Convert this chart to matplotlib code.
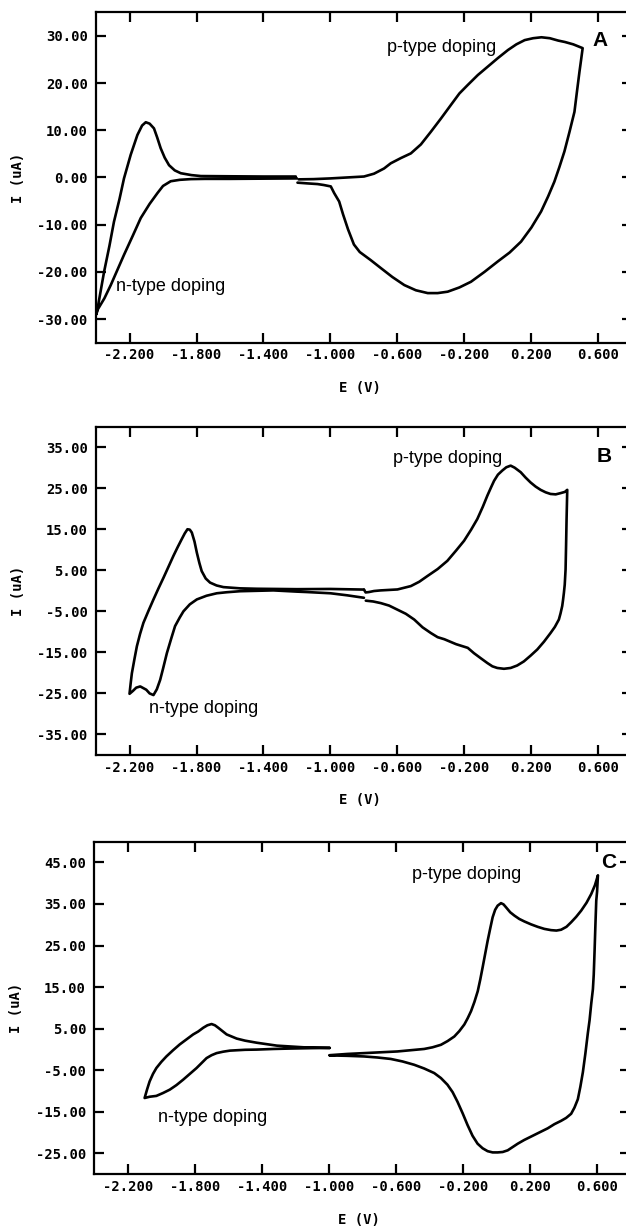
import matplotlib
matplotlib.use("Agg")
import matplotlib.pyplot as plt
from matplotlib.ticker import FixedLocator, FormatStrFormatter

# ---- Panel A --------------------------------------------------------------
# n-doping loop (-1.2 V -> -2.4 V -> -1.2 V)
A_LEFT_E = [-1.20, -1.40, -1.60, -1.75, -1.834, -1.90, -1.954, -2.00, -2.033, -2.08,
            -2.133, -2.18, -2.233, -2.275, -2.312, -2.35, -2.392, -2.398,
            -2.392, -2.372, -2.352, -2.32, -2.293, -2.26, -2.233, -2.193, -2.153,
            -2.125, -2.103, -2.08, -2.054, -2.035, -2.014, -1.99, -1.964, -1.93,
            -1.894, -1.83, -1.774, -1.60, -1.40, -1.207]
A_LEFT_I = [-0.2, -0.25, -0.3, -0.3, -0.35, -0.5, -0.8, -1.8, -3.3, -5.6,
            -8.6, -12.3, -16.4, -19.8, -22.8, -25.6, -28.1, -29.0,
            -28.0, -24.0, -20.0, -14.5, -9.4, -4.6, -0.2, 4.8, 9.0,
            11.0, 11.7, 11.4, 10.4, 8.5, 6.2, 4.2, 2.6, 1.5,
            0.9, 0.5, 0.3, 0.25, 0.2, 0.2]
# p-doping loop (-1.2 V -> 0.5 V -> -1.2 V)
A_RIGHT_E = [-1.19, -1.10, -1.0, -0.90, -0.80, -0.74, -0.68, -0.64, -0.58, -0.52,
             -0.46, -0.40, -0.34, -0.28, -0.23, -0.18, -0.12, -0.06, 0.0, 0.06,
             0.11, 0.16, 0.21, 0.26, 0.31, 0.36, 0.40, 0.45, 0.506,
             0.497, 0.487, 0.472, 0.457, 0.427, 0.397, 0.367, 0.337, 0.30, 0.258,
             0.20, 0.138, 0.07, -0.001, -0.08, -0.161, -0.23, -0.30, -0.36, -0.419,
             -0.49, -0.559, -0.63, -0.699, -0.76, -0.825, -0.86, -0.895, -0.925,
             -0.948, -0.978, -0.998, -1.04, -1.077, -1.14, -1.197]
A_RIGHT_I = [-0.4, -0.35, -0.2, 0.0, 0.2, 0.8, 1.9, 3.0, 4.1, 5.1,
             7.0, 9.7, 12.5, 15.4, 17.8, 19.6, 21.7, 23.5, 25.3, 27.0,
             28.2, 29.1, 29.5, 29.7, 29.5, 29.0, 28.7, 28.2, 27.4,
             25.0, 22.4, 18.2, 13.9, 9.6, 5.5, 2.2, -0.9, -4.0, -7.2,
             -10.6, -13.6, -15.9, -17.8, -20.0, -22.1, -23.3, -24.2, -24.5, -24.5,
             -23.9, -22.8, -21.1, -19.2, -17.5, -15.8, -14.2, -11.0, -7.8,
             -5.1, -3.3, -1.9, -1.6, -1.4, -1.25, -1.1]

# ---- Panel B --------------------------------------------------------------
B_LEFT_E = [-0.80, -0.90, -1.00, -1.142, -1.20, -1.341, -1.44, -1.54, -1.62, -1.679,
            -1.74, -1.798, -1.84, -1.878, -1.90, -1.928, -1.95, -1.977, -2.00, -2.017,
            -2.037, -2.057, -2.08, -2.10, -2.136, -2.16, -2.18, -2.20,
            -2.193, -2.186, -2.17, -2.156, -2.137, -2.117, -2.087, -2.057, -2.027,
            -1.997, -1.968, -1.938, -1.913, -1.888, -1.87, -1.854, -1.84, -1.828,
            -1.812, -1.798, -1.783, -1.769, -1.745, -1.719, -1.68, -1.639, -1.54,
            -1.44, -1.2, -1.0, -0.80]
B_LEFT_I = [-1.7, -1.1, -0.6, -0.3, -0.2, 0.1, 0.0, -0.1, -0.35, -0.6,
            -1.2, -2.1, -3.3, -5.0, -6.5, -8.6, -11.5, -15.2, -19.0, -21.7,
            -24.0, -25.4, -25.0, -24.1, -23.3, -23.6, -24.4, -25.1,
            -22.5, -20.1, -16.5, -13.5, -10.5, -7.8, -4.9, -2.1, 0.6,
            3.2, 5.8, 8.5, 10.6, 12.6, 14.0, 15.0, 14.9, 14.2,
            12.0, 9.3, 6.8, 4.8, 3.0, 2.0, 1.3, 0.9, 0.6,
            0.5, 0.4, 0.45, 0.3]
B_RIGHT_E = [-0.80, -0.79, -0.77, -0.74, -0.70, -0.6, -0.52, -0.47, -0.421, -0.36,
             -0.302, -0.25, -0.202, -0.16, -0.123, -0.09, -0.063, -0.04, -0.023, 0.0,
             0.026, 0.05, 0.076, 0.10, 0.136, 0.165, 0.195, 0.225, 0.255, 0.285,
             0.314, 0.345, 0.374, 0.40, 0.414,
             0.412, 0.41, 0.407, 0.404, 0.399, 0.394, 0.389, 0.384, 0.374, 0.364,
             0.34, 0.314, 0.275, 0.235, 0.195, 0.155, 0.115, 0.076, 0.036, -0.004,
             -0.033, -0.063, -0.10, -0.143, -0.18, -0.25, -0.32, -0.36, -0.40, -0.45,
             -0.50, -0.55, -0.60, -0.65, -0.699, -0.745, -0.789]
B_RIGHT_I = [0.3, -0.4, -0.3, -0.05, 0.1, 0.33, 1.15, 2.2, 3.6, 5.3,
             7.3, 9.8, 12.2, 14.9, 17.5, 20.5, 23.2, 25.3, 26.8, 28.3,
             29.3, 30.1, 30.5, 30.0, 28.9, 27.6, 26.4, 25.4, 24.6, 24.0,
             23.6, 23.5, 23.8, 24.1, 24.6,
             21.0, 17.5, 11.0, 5.2, 1.5, -0.5, -2.2, -3.7, -5.5, -7.0,
             -8.8, -10.3, -12.4, -14.3, -15.8, -17.2, -18.2, -18.8, -19.0, -18.8,
             -18.4, -17.6, -16.5, -15.2, -13.9, -13.0, -11.8, -11.3, -10.3, -8.9,
             -7.0, -5.6, -4.6, -3.6, -3.0, -2.6, -2.4]

# ---- Panel C --------------------------------------------------------------
C_LEFT_E = [-0.994, -1.15, -1.31, -1.43, -1.50, -1.55, -1.61, -1.66, -1.68, -1.70,
            -1.725, -1.75, -1.78, -1.81, -1.85, -1.89, -1.93, -1.97, -2.00, -2.03,
            -2.05, -2.07, -2.085, -2.10,
            -2.07, -2.03, -1.99, -1.95, -1.91, -1.87, -1.83, -1.79, -1.76, -1.73,
            -1.70, -1.67, -1.63, -1.59, -1.50, -1.43, -1.33, -1.23, -1.10, -0.994]
C_LEFT_I = [0.35, 0.5, 0.9, 1.6, 2.1, 2.6, 3.6, 5.2, 5.8, 6.1,
            5.8, 5.2, 4.3, 3.6, 2.4, 1.2, -0.2, -1.7, -3.0, -4.5,
            -5.9, -7.7, -9.6, -11.7,
            -11.4, -11.2, -10.5, -9.7, -8.6, -7.3, -5.9, -4.5, -3.3, -2.1,
            -1.4, -0.9, -0.55, -0.3, -0.1, -0.05, 0.1, 0.2, 0.3, 0.35]
C_RIGHT_E = [-0.995, -0.89, -0.79, -0.69, -0.59, -0.51, -0.43, -0.38, -0.33, -0.29,
             -0.25, -0.22, -0.19, -0.17, -0.15, -0.13, -0.11, -0.095, -0.081, -0.066,
             -0.051, -0.036, -0.021, -0.006, 0.009, 0.029, 0.044, 0.059, 0.084, 0.109,
             0.138, 0.168, 0.208, 0.248, 0.288, 0.328, 0.36, 0.388, 0.42, 0.448,
             0.478, 0.508, 0.54, 0.568, 0.59, 0.608,
             0.603, 0.598, 0.593, 0.588, 0.583, 0.578, 0.568, 0.558, 0.548, 0.533,
             0.518, 0.503, 0.488, 0.468, 0.448, 0.418, 0.388, 0.348, 0.308, 0.258,
             0.208, 0.168, 0.129, 0.099, 0.069, 0.039, 0.009, -0.021, -0.051, -0.081,
             -0.111, -0.141, -0.171, -0.20, -0.231, -0.26, -0.291, -0.33, -0.37, -0.43,
             -0.49, -0.56, -0.63, -0.71, -0.79, -0.89, -0.995]
C_RIGHT_I = [-1.4, -1.1, -0.9, -0.7, -0.5, -0.2, 0.1, 0.5, 1.1, 2.0,
             3.1, 4.4, 6.0, 7.5, 9.2, 11.4, 14.0, 16.8, 19.7, 22.9,
             26.1, 29.0, 31.8, 33.6, 34.6, 35.2, 34.9, 34.2, 33.0, 32.2,
             31.4, 30.8, 30.1, 29.5, 29.0, 28.7, 28.6, 28.8, 29.5, 30.6,
             31.9, 33.4, 35.3, 37.4, 39.5, 41.9,
             38.0, 35.8, 30.0, 23.7, 18.0, 14.5, 11.0, 7.0, 4.0, -1.0,
             -5.5, -9.0, -12.0, -14.0, -15.5, -16.5, -17.2, -18.0, -19.0, -20.0,
             -21.0, -21.8, -22.7, -23.5, -24.3, -24.7, -24.8, -24.8, -24.5, -23.8,
             -22.7, -20.8, -18.2, -15.4, -12.6, -10.3, -8.5, -6.9, -5.7, -4.6,
             -3.7, -2.9, -2.3, -1.95, -1.7, -1.55, -1.45]

X_TICKS = [-2.2, -1.8, -1.4, -1.0, -0.6, -0.2, 0.2, 0.6]
Y_TICKS_A = [-30, -20, -10, 0, 10, 20, 30]
Y_TICKS_B = [-35, -25, -15, -5, 5, 15, 25, 35]
Y_TICKS_C = [-25, -15, -5, 5, 15, 25, 35, 45]
YLIM_A = (-35, 35)
YLIM_B = (-40, 40)
YLIM_C = (-30, 50)
XLIM = (-2.4, 0.8)

MONO = "DejaVu Sans Mono"
SANS = "Liberation Sans"


def style_axes(ax, yticks, ylim):
    ax.set_xlim(*XLIM)
    ax.set_ylim(*ylim)
    ax.xaxis.set_major_locator(FixedLocator(X_TICKS))
    ax.yaxis.set_major_locator(FixedLocator(yticks))
    ax.xaxis.set_major_formatter(FormatStrFormatter("%.3f"))
    ax.yaxis.set_major_formatter(FormatStrFormatter("%.2f"))
    ax.tick_params(direction="in", length=7, width=1.6, top=True, right=True,
                   labelsize=10)
    ax.tick_params(axis="x", pad=4)
    ax.tick_params(axis="y", pad=6)
    for lab in ax.get_xticklabels() + ax.get_yticklabels():
        lab.set_fontfamily(MONO)
        lab.set_fontweight("bold")
    for sp in ax.spines.values():
        sp.set_linewidth(1.6)
    ax.set_xlabel("E (V)", fontfamily=MONO, fontweight="bold", fontsize=10)
    ax.set_ylabel("I (uA)", fontfamily=MONO, fontweight="bold", fontsize=10)
    ax.xaxis.label.set_va("center")
    ax.yaxis.label.set_va("center")
    ax.xaxis.set_label_coords(0.493, -0.137)
    ax.yaxis.set_label_coords(-0.1455, 0.5)


fig = plt.figure(figsize=(6.26, 12.26), dpi=100)
fig.patch.set_facecolor("white")

ax_a = fig.add_axes([0.1534, 0.7205, 0.856, 0.2695])
ax_b = fig.add_axes([0.1534, 0.3842, 0.856, 0.2678])
ax_c = fig.add_axes([0.1508, 0.0424, 0.8557, 0.2711])

LW = 1.9
for ax, e, i in [(ax_a, A_LEFT_E, A_LEFT_I), (ax_a, A_RIGHT_E, A_RIGHT_I),
                 (ax_b, B_LEFT_E, B_LEFT_I), (ax_b, B_RIGHT_E, B_RIGHT_I),
                 (ax_c, C_LEFT_E, C_LEFT_I), (ax_c, C_RIGHT_E, C_RIGHT_I)]:
    ax.plot(e, i, color="black", lw=LW, solid_joinstyle="round",
            solid_capstyle="round")

style_axes(ax_a, Y_TICKS_A, YLIM_A)
style_axes(ax_b, Y_TICKS_B, YLIM_B)
style_axes(ax_c, Y_TICKS_C, YLIM_C)

txt = dict(fontfamily=SANS, fontsize=13, va="baseline", ha="left")
big = dict(fontfamily=SANS, fontsize=15, fontweight="bold", va="baseline", ha="left")

ax_a.text(-0.663, 26.6, "p-type doping", **txt)
ax_a.text(-2.282, -24.0, "n-type doping", **txt)
ax_a.text(0.567, 27.9, "A", **big)

ax_b.text(-0.629, 31.2, "p-type doping", **txt)
ax_b.text(-2.081, -29.8, "n-type doping", **txt)
ax_b.text(0.591, 31.5, "B", **big)

ax_c.text(-0.505, 40.9, "p-type doping", **txt)
ax_c.text(-2.019, -17.4, "n-type doping", **txt)
ax_c.text(0.630, 43.6, "C", **big)

fig.savefig("out.png", dpi=100, facecolor="white")
